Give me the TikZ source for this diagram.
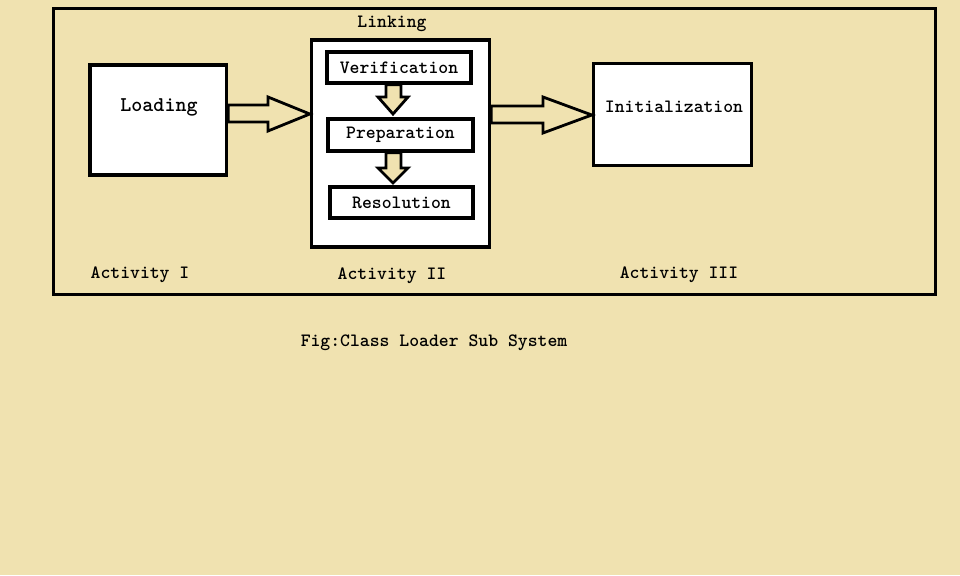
\documentclass[tikz,border=0pt]{standalone}
\usepackage{fontspec}
\setmonofont{Latin Modern Mono Light}
\usetikzlibrary{positioning,calc}
\definecolor{paper}{HTML}{F0E2B0}

\begin{document}
\begin{tikzpicture}[
  x=1pt, y=-1pt,
  box/.style={
    rectangle, draw=black, line width=3.4pt, fill=white, inner sep=0pt
  },
  txt/.style={font=\ttfamily\bfseries\fontsize{18.8}{20}\selectfont, inner sep=0pt},
  bigtxt/.style={font=\ttfamily\bfseries\fontsize{21}{23}\selectfont, inner sep=0pt},
  barrow/.style={draw=black, line width=2.8pt, fill=paper, line join=miter}
]

% === Background and frame ===
\fill[paper] (0,0) rectangle (960,575);
\draw[line width=3.4pt] (53.5,8.5) rectangle (935.5,294.5);

% === Stage boxes ===
\node[box, minimum width=136.5pt, minimum height=110pt] (load) at (158.25,120) {};
\node[box, minimum width=178pt, minimum height=207pt] (link) at (400.5,143.5) {};
\node[box, minimum width=158pt, minimum height=102pt] (init) at (672.5,114.5) {};

\node[bigtxt] (loadtxt) at (159,107) {Loading};
\node[txt] (inittxt) at (674,107) {Initialization};
\node[txt] (linktxt) at (392,23.5) {Linking};

% === Linking sub-steps ===
\node[box, minimum width=144pt, minimum height=31pt, txt] (ver) at (399,67.5) {Verification};
\node[box, minimum width=145pt, minimum height=32pt, txt] (prep) at (400.5,135) {Preparation};
\node[box, minimum width=143pt, minimum height=31pt, txt] (res) at (401.5,202.5) {Resolution};

% === Block arrows between stages ===
\draw[barrow] (load.east |- 0,105) -- (268,105) -- (268,97) -- (link.west |- 0,114)
  -- (268,131) -- (268,122) -- (load.east |- 0,122) -- cycle;
\draw[barrow] (link.east |- 0,106) -- (543,106) -- (543,97) -- (init.west |- 0,115)
  -- (543,133) -- (543,123) -- (link.east |- 0,123) -- cycle;

% === Block arrows inside Linking ===
\draw[barrow] (ver.south -| 386,0) -- (386,97) -- (378,97) -- (393,114)
  -- (408,97) -- (401,97) -- (ver.south -| 401,0) -- cycle;
\draw[barrow] (prep.south -| 386,0) -- (386,168) -- (378,168) -- (393,183)
  -- (408,168) -- (401,168) -- (prep.south -| 401,0) -- cycle;

% === Activity labels ===
\node[txt] (act1) at (140,274.5) {Activity I};
\node[txt] (act2) at (392,275.5) {Activity II};
\node[txt] (act3) at (679,274.5) {Activity III};

% === Caption ===
\node[txt] (cap) at (434,342.5) {Fig:Class Loader Sub System};

\end{tikzpicture}
\end{document}
